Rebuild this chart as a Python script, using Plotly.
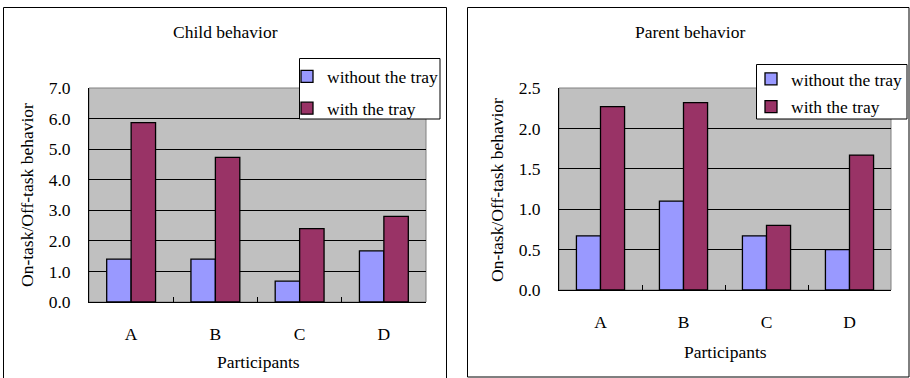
import plotly.graph_objects as go

categories = ["A", "B", "C", "D"]
child_without = [1.4, 1.4, 0.68, 1.67]
child_with = [5.87, 4.73, 2.4, 2.8]
parent_without = [0.67, 1.1, 0.67, 0.5]
parent_with = [2.27, 2.32, 0.8, 1.67]
series_names = ["without the tray", "with the tray"]
child_ticks = [0, 1, 2, 3, 4, 5, 6, 7]
parent_ticks = [0, 0.5, 1.0, 1.5, 2.0, 2.5]

W, H = 910, 378
FONT = "Liberation Serif"
FS = 17.5
BLUE = "#9999FF"
RED = "#993366"


def px(x):
    return x / W


def py(y):
    return 1 - y / H


fig = go.Figure()

for name, vals, color, xa, ya, lg in [
    (series_names[0], child_without, BLUE, "x", "y", "legend"),
    (series_names[1], child_with, RED, "x", "y", "legend"),
    (series_names[0], parent_without, BLUE, "x2", "y2", "legend2"),
    (series_names[1], parent_with, RED, "x2", "y2", "legend2"),
]:
    fig.add_trace(go.Bar(
        x=categories, y=vals, name=name, xaxis=xa, yaxis=ya, legend=lg,
        legendgroup=name + lg,
        marker=dict(color=color, line=dict(color="black", width=1.3)),
    ))

axis_common = dict(
    showline=True, linecolor="black", linewidth=1, mirror=False,
    automargin=False,
    tickfont=dict(family=FONT, size=FS, color="black"),
)

fig.update_layout(
    template="none",
    width=W, height=H, autosize=False,
    margin=dict(l=0, r=0, t=0, b=0, pad=0, autoexpand=False),
    paper_bgcolor="white", plot_bgcolor="#C0C0C0",
    barmode="group", bargap=0.42, bargroupgap=0,
    font=dict(family=FONT, size=FS, color="black"),
    xaxis=dict(domain=[px(89), px(426)], anchor="y", type="category",
               tickson="boundaries", ticks="inside", ticklen=5, tickcolor="black",
               ticklabelstandoff=16, showgrid=False, **axis_common),
    yaxis=dict(domain=[py(302), py(88)], anchor="x", range=[0, 7],
               tickvals=child_ticks, tickformat=".1f", ticks="inside", ticklen=4,
               tickcolor="black", ticklabelstandoff=14,
               showgrid=True, gridcolor="black", gridwidth=1, zeroline=False,
               **axis_common),
    xaxis2=dict(domain=[px(559), px(891)], anchor="y2", type="category",
                tickson="boundaries", ticks="inside", ticklen=5, tickcolor="black",
                ticklabelstandoff=16, showgrid=False, **axis_common),
    yaxis2=dict(domain=[py(290), py(88)], anchor="x2", range=[0, 2.5],
                tickvals=parent_ticks, tickformat=".1f", ticks="inside", ticklen=4,
                tickcolor="black", ticklabelstandoff=14,
                showgrid=True, gridcolor="black", gridwidth=1, zeroline=False,
                **axis_common),
    legend=dict(x=px(287), y=py(58.5), xanchor="left", yanchor="top",
                bgcolor="rgba(0,0,0,0)", borderwidth=0,
                tracegroupgap=6, font=dict(family=FONT, size=FS),
                traceorder="grouped"),
    legend2=dict(x=px(751), y=py(61), xanchor="left", yanchor="top",
                 bgcolor="rgba(0,0,0,0)", borderwidth=0,
                 tracegroupgap=2, font=dict(family=FONT, size=FS),
                 traceorder="grouped"),
    showlegend=True,
)

# panel borders, plot-area borders and legend frames
shapes = [
    dict(type="rect", xref="paper", yref="paper", x0=px(3.5), x1=px(446.5),
         y0=py(385), y1=py(7.5), line=dict(color="black", width=1)),
    dict(type="rect", xref="paper", yref="paper", x0=px(467.5), x1=px(909),
         y0=py(377), y1=py(7.5), line=dict(color="black", width=1)),
    dict(type="rect", xref="x domain", yref="y domain", x0=0, x1=1, y0=0, y1=1,
         line=dict(color="#808080", width=1), layer="below"),
    dict(type="rect", xref="x2 domain", yref="y2 domain", x0=0, x1=1, y0=0, y1=1,
         line=dict(color="#808080", width=1), layer="below"),
    dict(type="rect", xref="paper", yref="paper", x0=px(299.5), x1=px(440),
         y0=py(119), y1=py(58.5), fillcolor="white",
         line=dict(color="black", width=1), layer="above"),
    dict(type="rect", xref="paper", yref="paper", x0=px(756.5), x1=px(907),
         y0=py(119), y1=py(64.5), fillcolor="white",
         line=dict(color="black", width=1), layer="above"),
]
fig.update_layout(shapes=shapes)

annotations = [
    dict(text="Child behavior", x=px(225), y=py(32)),
    dict(text="Parent behavior", x=px(690), y=py(32)),
    dict(text="Participants", x=px(258), y=py(362)),
    dict(text="Participants", x=px(725), y=py(352)),
    dict(text="On-task/Off-task behavior", x=px(27), y=py(195), textangle=-90),
    dict(text="On-task/Off-task behavior", x=px(497), y=py(190), textangle=-90),
]
for a in annotations:
    fig.add_annotation(xref="paper", yref="paper", showarrow=False,
                       xanchor="center", yanchor="middle",
                       font=dict(family=FONT, size=FS, color="black"), **a)

fig.write_html("out.html", config={"displayModeBar": False},
               post_script="document.body.style.margin='0';document.body.style.overflow='hidden';")
